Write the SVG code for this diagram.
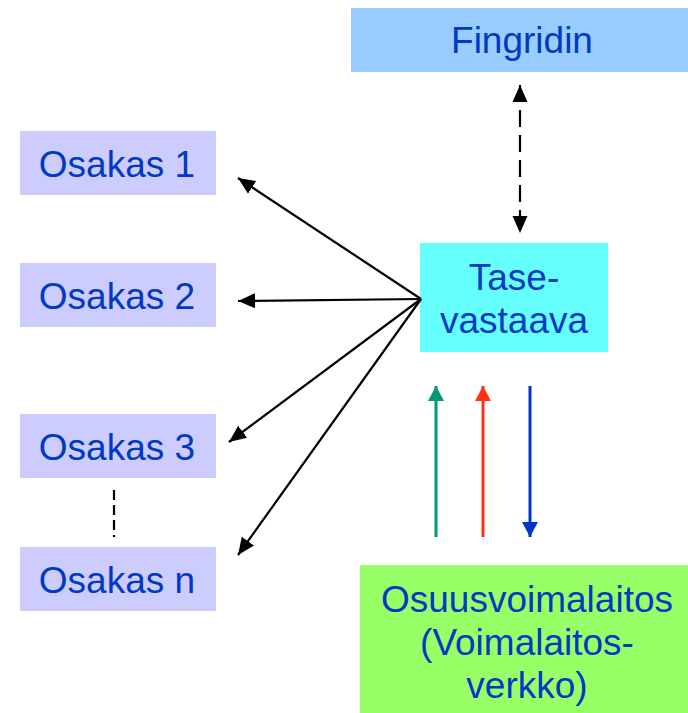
<svg xmlns="http://www.w3.org/2000/svg" width="688" height="713" viewBox="0 0 688 713">
<style>
.t{font-family:"Liberation Sans",Arial,sans-serif;font-size:37px;fill:#0039C4;text-anchor:middle}
.k{stroke:#000;stroke-width:2.2;fill:none}
</style>
<defs>
<marker id="ak" markerUnits="userSpaceOnUse" markerWidth="18" markerHeight="18" viewBox="0 0 18 18" refX="17" refY="9" orient="auto-start-reverse"><path d="M0,1.5 L17,9 L0,16.5 Z" fill="#000"/></marker>
<marker id="ag" markerUnits="userSpaceOnUse" markerWidth="16" markerHeight="16" viewBox="0 0 16 16" refX="15" refY="8" orient="auto"><path d="M0,0 L15,8 L0,16 Z" fill="#009977"/></marker>
<marker id="ar" markerUnits="userSpaceOnUse" markerWidth="16" markerHeight="16" viewBox="0 0 16 16" refX="15" refY="8" orient="auto"><path d="M0,0 L15,8 L0,16 Z" fill="#FF3311"/></marker>
<marker id="ab" markerUnits="userSpaceOnUse" markerWidth="16" markerHeight="16" viewBox="0 0 16 16" refX="15" refY="8" orient="auto"><path d="M0,0 L15,8 L0,16 Z" fill="#0033CC"/></marker>
</defs>
<g id="fingridin"><rect x="351" y="8" width="337" height="64" fill="#99CCFF"/><text class="t" x="522" y="53">Fingridin</text></g>
<g id="tasevastaava"><rect x="420" y="243" width="188" height="109" fill="#66FFFF"/><text class="t" x="514" y="290">Tase-</text><text class="t" x="514" y="333">vastaava</text></g>
<g id="osakas1"><rect x="20" y="131" width="196" height="64" fill="#CCCCFF"/><text class="t" x="117" y="177">Osakas 1</text></g>
<g id="osakas2"><rect x="20" y="263" width="196" height="64" fill="#CCCCFF"/><text class="t" x="117" y="309">Osakas 2</text></g>
<g id="osakas3"><rect x="20" y="414" width="196" height="64" fill="#CCCCFF"/><text class="t" x="117" y="460">Osakas 3</text></g>
<g id="osakasn"><rect x="20" y="547" width="196" height="64" fill="#CCCCFF"/><text class="t" x="117" y="593">Osakas n</text></g>
<g id="osuusvoimalaitos"><rect x="360" y="565" width="328" height="148" fill="#99FF66"/><text class="t" x="527" y="612">Osuusvoimalaitos</text><text class="t" x="527" y="655">(Voimalaitos-</text><text class="t" x="527" y="698">verkko)</text></g>
<g id="connectors">
<line class="k" x1="520" y1="85" x2="520" y2="233" stroke-dasharray="17,8" marker-start="url(#ak)" marker-end="url(#ak)"/>
<line class="k" x1="421" y1="299" x2="238" y2="178" marker-end="url(#ak)"/>
<line class="k" x1="421" y1="299" x2="238" y2="301" marker-end="url(#ak)"/>
<line class="k" x1="421" y1="299" x2="229" y2="442" marker-end="url(#ak)"/>
<line class="k" x1="421" y1="299" x2="238" y2="555" marker-end="url(#ak)"/>
<line x1="114" y1="490" x2="114" y2="537" stroke="#000" stroke-width="2.2" stroke-dasharray="10,5"/>
<line x1="436" y1="537" x2="436" y2="386" stroke="#009977" stroke-width="3" marker-end="url(#ag)"/>
<line x1="483" y1="537" x2="483" y2="386" stroke="#FF3311" stroke-width="3" marker-end="url(#ar)"/>
<line x1="530" y1="386" x2="530" y2="537" stroke="#0033CC" stroke-width="3" marker-end="url(#ab)"/>
</g>
</svg>
